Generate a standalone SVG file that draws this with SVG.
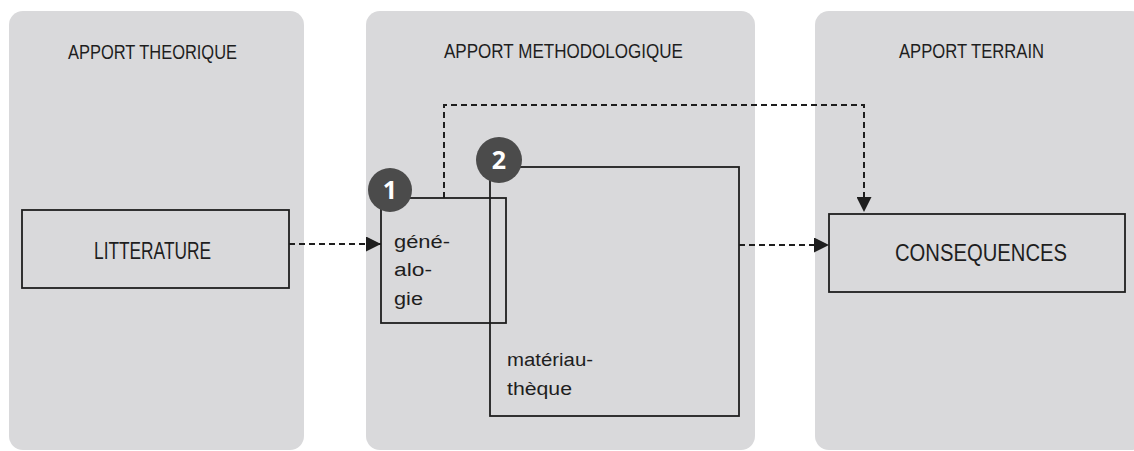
<svg xmlns="http://www.w3.org/2000/svg" width="1134" height="451" viewBox="0 0 1134 451">
<defs>
<style>
.panel{fill:#d9d9db;}
.box{fill:none;stroke:#1e1e1e;stroke-width:1.8;}
.hdr{font-family:"Liberation Sans",Arial,sans-serif;font-size:21px;fill:#1e1e1e;}
.lbl{font-family:"Liberation Sans",Arial,sans-serif;font-size:23px;fill:#1e1e1e;}
.sm{font-family:"Liberation Sans",Arial,sans-serif;font-size:18px;fill:#1e1e1e;}
.badge{fill:#4b4b4b;}
.num{font-family:"Open Sans","Liberation Sans",sans-serif;font-weight:bold;font-size:25px;fill:#ffffff;text-anchor:middle;}
.dash{fill:none;stroke:#1e1e1e;stroke-width:2;stroke-dasharray:6 4;}
</style>
<marker id="arr" viewBox="0 0 10 10" refX="10" refY="5" markerWidth="15" markerHeight="15" markerUnits="userSpaceOnUse" orient="auto">
<path d="M0,0 L10,5 L0,10 Z" fill="#1e1e1e"/>
</marker>
</defs>
<rect width="1134" height="451" fill="#ffffff"/>
<g id="panel-theorique">
<rect class="panel" x="9" y="11" width="295" height="439" rx="14"/>
<text class="hdr" x="68" y="59" textLength="169" lengthAdjust="spacingAndGlyphs">APPORT THEORIQUE</text>
</g>
<g id="panel-methodologique">
<rect class="panel" x="366" y="11" width="389" height="439" rx="14"/>
<text class="hdr" x="444" y="58" textLength="239" lengthAdjust="spacingAndGlyphs">APPORT METHODOLOGIQUE</text>
</g>
<g id="panel-terrain">
<rect class="panel" x="815" y="11" width="330" height="439" rx="14"/>
<text class="hdr" x="899" y="58" textLength="145" lengthAdjust="spacingAndGlyphs">APPORT TERRAIN</text>
</g>
<g id="connectors">
<line class="dash" x1="289" y1="244" x2="381" y2="244" marker-end="url(#arr)"/>
<line class="dash" x1="739" y1="245" x2="829" y2="245" marker-end="url(#arr)"/>
<polyline class="dash" points="444,198 444,105 864,105 864,212" marker-end="url(#arr)"/>
</g>
<g id="node-litterature">
<rect class="box" x="22" y="210" width="267" height="78"/>
<text class="lbl" x="94" y="259" textLength="117" lengthAdjust="spacingAndGlyphs">LITTERATURE</text>
</g>
<g id="node-materiautheque">
<rect class="box" x="490" y="167" width="249" height="249"/>
<text class="sm" x="507" y="366" textLength="86" lengthAdjust="spacingAndGlyphs">matériau-</text>
<text class="sm" x="507" y="395" textLength="65" lengthAdjust="spacingAndGlyphs">thèque</text>
</g>
<g id="node-genealogie">
<rect class="box" x="381" y="198" width="125" height="125"/>
<text class="sm" x="394" y="248" textLength="56" lengthAdjust="spacingAndGlyphs">géné-</text>
<text class="sm" x="394" y="276" textLength="38" lengthAdjust="spacingAndGlyphs">alo-</text>
<text class="sm" x="394" y="305" textLength="29" lengthAdjust="spacingAndGlyphs">gie</text>
</g>
<g id="node-consequences">
<rect class="box" x="829" y="214" width="296" height="78"/>
<text class="lbl" x="895" y="261" textLength="172" lengthAdjust="spacingAndGlyphs">CONSEQUENCES</text>
</g>
<g id="badge-1">
<circle class="badge" cx="390" cy="190" r="22"/>
<text class="num" x="390" y="199">1</text>
</g>
<g id="badge-2">
<circle class="badge" cx="499" cy="160" r="23"/>
<text class="num" x="499" y="169">2</text>
</g>
</svg>
